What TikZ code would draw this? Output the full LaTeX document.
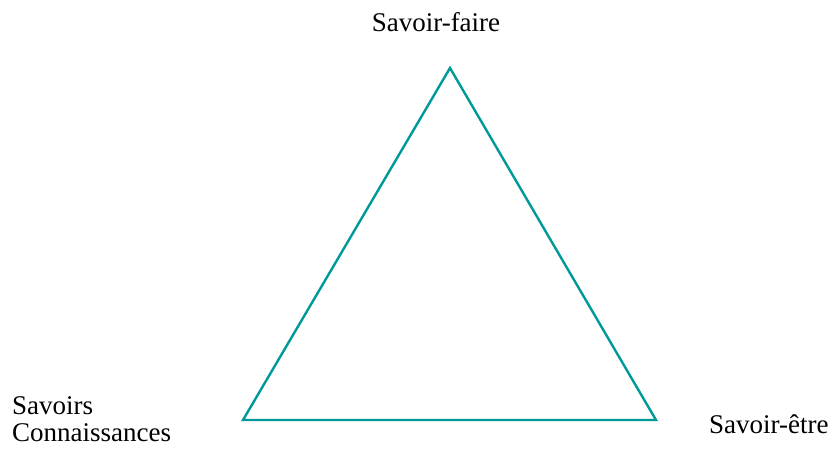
\documentclass[tikz,border=0pt]{standalone}
\usepackage{fontspec}
\setmainfont{Liberation Serif}
\usepackage{tikz}
\usetikzlibrary{positioning}
\definecolor{sarcelle}{RGB}{0,153,153}
\tikzset{pole/.style={font=\fontsize{27}{27}\selectfont, inner sep=0pt, align=left}}
\tikzset{cote/.style={draw=sarcelle, line width=2.4pt, line join=miter}}

\begin{document}
\begin{tikzpicture}[x=1pt, y=-1pt]
        \useasboundingbox (0,0) rectangle (836,450);
        \coordinate (sommet) at (450,68);
        \coordinate (gauche) at (243,420);
        \coordinate (droite) at (656,420);
        \draw[cote] (sommet) -- (gauche) -- (droite) -- cycle;
        \node[pole, anchor=base] (faire) at (436,31) {Savoir-faire};
        % last line sits on the anchor
        \node[pole, anchor=base west] (savoirs) at (12,441) {Savoirs\\Connaissances};
        \node[pole, anchor=base west] (etre) at (709,433) {Savoir-être};
      \end{tikzpicture}
\end{document}
